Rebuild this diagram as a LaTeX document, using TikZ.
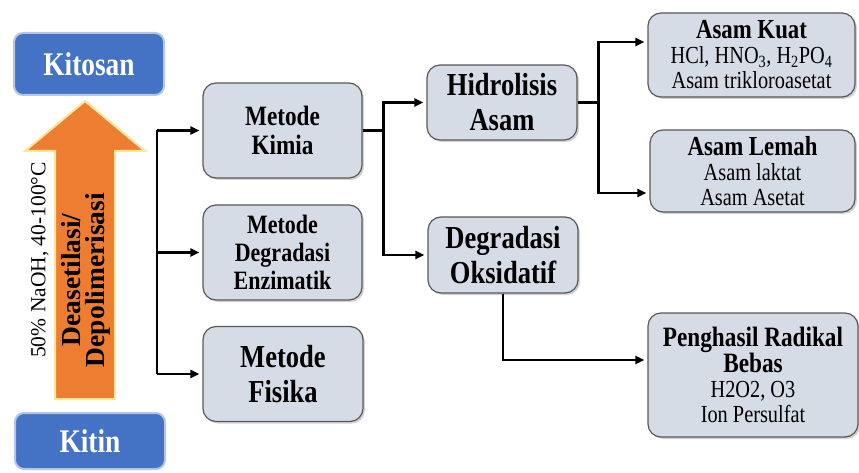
\documentclass[tikz,border=0pt]{standalone}
\usepackage{fontspec}
\setmainfont{Liberation Serif}[FakeStretch=0.83]
\newfontfamily\upright{Liberation Serif}
\usepackage{tikz}
\usetikzlibrary{calc}
\usetikzlibrary{positioning}
\usetikzlibrary{shadows}
\usetikzlibrary{arrows.meta}
\definecolor{boxfill}{HTML}{D6DCE5}
\definecolor{boxline}{HTML}{595959}
\definecolor{kblue}{HTML}{4472C4}
\definecolor{kglow}{HTML}{B4C7E7}
\definecolor{korange}{HTML}{ED7D31}
\definecolor{kyellow}{HTML}{FFE699}
\newcommand{\fs}[2]{\fontsize{#1}{#2}\selectfont}

\begin{document}
\begin{tikzpicture}[x=1pt, y=-1pt,
		b/.style = {rectangle, rounded corners=13pt, draw=boxline, fill=boxfill, line width=1.2pt, align=center, inner sep=0pt, drop shadow={shadow xshift=2pt, shadow yshift=-2pt, opacity=0.35}},
		k/.style = {rectangle, rounded corners=9pt, draw=kglow, fill=kblue, line width=2pt, text=white, font=\bfseries\fs{33}{36}, minimum width=150pt, inner sep=0pt},
		o/.style = {fill=korange, draw=kyellow, line width=2pt, line join=miter},
		r/.style = {-{Triangle[length=9pt, width=8pt]}, line width=2.4pt, shorten >=3pt},
		l/.style = {line width=2.4pt}
		]
		\useasboundingbox (0,0) rectangle (859,473);
		
		% === === Nodes === ===
		\node[k, minimum height=62pt]	(kitosan)	at	(89, 64)	{Kitosan};
		\node[k, minimum height=56pt]	(kitin)		at	(90, 441)	{Kitin};
		
		\node[b, minimum width=159pt, minimum height=95pt, font=\bfseries\fs{28}{29}]	(kimia)	at	(282.5, 130.5)	{Metode\\Kimia};
		\node[b, minimum width=159pt, minimum height=95pt, font=\bfseries\fs{26.5}{28}]	(enzim)	at	(282.5, 252.5)	{Metode\\Degradasi\\Enzimatik};
		\node[b, minimum width=160pt, minimum height=95pt, font=\bfseries\fs{32}{35}]	(fisika)	at	(283, 374)	{Metode\\Fisika};
		
		\node[b, minimum width=150pt, minimum height=75pt, font=\bfseries\fs{32}{35}]	(hidro)	at	(502, 102.5)	{Hidrolisis\\Asam};
		\node[b, minimum width=150pt, minimum height=76pt, font=\bfseries\fs{32}{35}]	(oksi)	at	(503, 255)	{Degradasi\\Oksidatif};
		
		\node[b, minimum width=207pt, minimum height=84pt, font=\fs{24.5}{25}]	(kuat)	at	(751.5, 55)
			{{\bfseries\fs{27.5}{25}Asam Kuat}\\HCl, HNO\textsubscript{3}, H\textsubscript{2}PO\textsubscript{4}\\Asam trikloroasetat};
		\node[b, minimum width=205pt, minimum height=82pt, font=\fs{24.5}{25}]	(lemah)	at	(752.5, 171)
			{{\bfseries\fs{27.5}{25}Asam Lemah}\\Asam laktat\\Asam Asetat};
		\node[b, minimum width=210pt, minimum height=124pt, font=\fs{24.5}{25}]	(radikal)	at	(753, 375)
			{{\bfseries\fs{28}{32}Penghasil Radikal}\\{\bfseries\fs{28}{32}Bebas}\\H2O2, O3\\Ion Persulfat};
		
		\coordinate	(tip)	at	($(kitosan.south)+(-4, 5)$);
		\coordinate	(tail)	at	($(kitin.north)+(-5, -13)$);
		\coordinate	(bx)	at	(157, 0);
		
		
		% === === Lines === ===
		\draw[o]	($(tail)+(-30, 0)$) -- ($(tip)+(-30, 50)$) -- ($(tip)+(-60, 50)$) -- (tip)
			-- ($(tip)+(60, 50)$) -- ($(tip)+(30, 50)$) -- ($(tail)+(30, 0)$) -- cycle;
		\node[rotate=90, font=\upright\fs{21.5}{25}]	(cond)	at	(40, 260)	{50\% NaOH, 40-100°C};
		\node[rotate=90, align=center, font=\upright\bfseries\fs{27.5}{24}]	(deas)	at	(86, 280)	{Deasetilasi/\\Depolimerisasi};
		
		\draw[l]	(kimia.west -| bx)	--	(fisika.west -| bx);
		\draw[r]	(kimia.west -| bx)	--	(kimia.west);
		\draw[r]	(enzim.west -| bx)	--	(enzim.west);
		\draw[r]	(fisika.west -| bx)	--	(fisika.west);
		
		\draw[r]	(kimia.east)	--	++(21, 0)	|-	(hidro.west);
		\draw[r]	(kimia.east)	--	++(21, 0)	|-	(oksi.west);
		
		\draw[r]	(hidro.east)	--	++(21, 0)	|-	([yshift=13pt]kuat.west);
		\draw[r]	(hidro.east)	--	++(21, 0)	|-	([yshift=-22pt]lemah.west);
		
		\draw[r]	(oksi.south)	|-	([yshift=15pt]radikal.west);
		
	\end{tikzpicture}
\end{document}
